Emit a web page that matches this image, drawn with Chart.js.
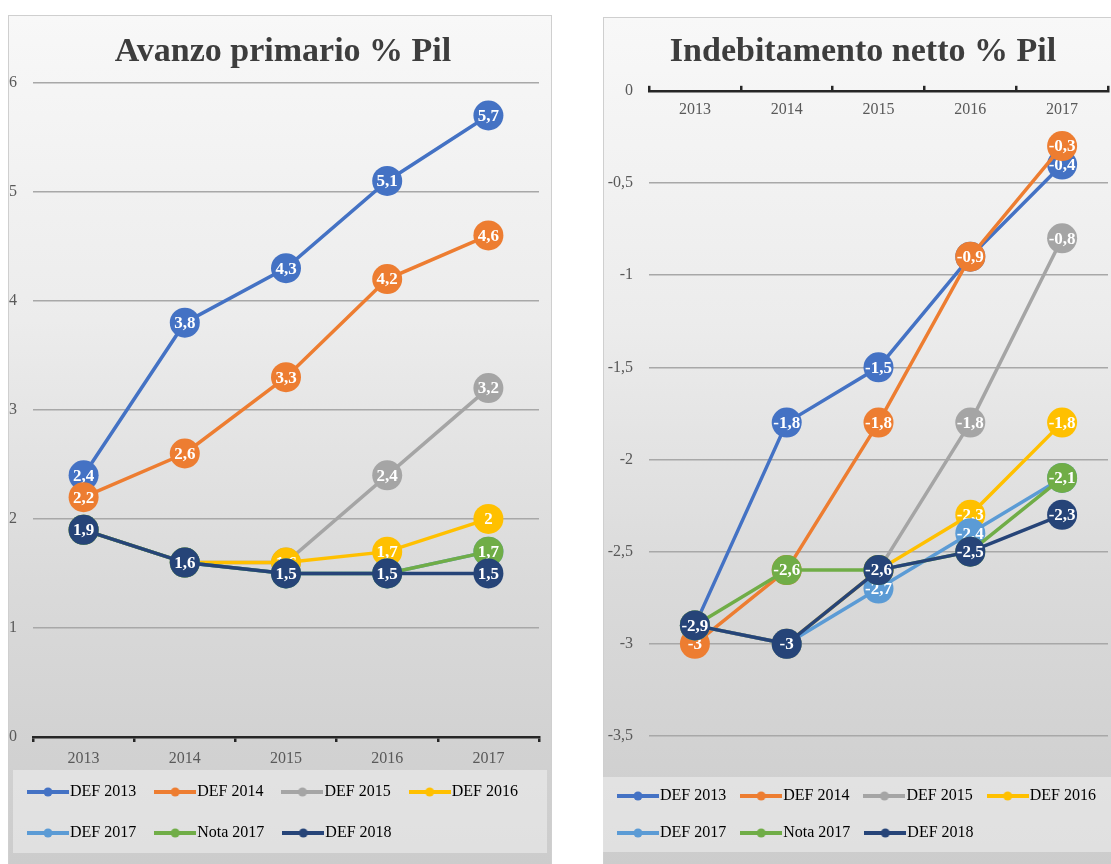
<!DOCTYPE html>
<html lang="it">
<head>
<meta charset="utf-8">
<title>Avanzo primario e indebitamento netto % Pil</title>
<script src="https://cdn.jsdelivr.net/npm/chart.js@4.4.1/dist/chart.umd.min.js"></script>
<style>
  html, body { margin: 0; padding: 0; overflow: hidden; background: #fff; }
  body { width: 1111px; height: 864px; position: relative; }
  .pannello {
    position: absolute; box-sizing: border-box; border: 1px solid #cfcfcf;
    background: linear-gradient(to bottom, #f8f8f8 0%, #ececec 35%, #dadada 65%, #cbcbcb 100%);
  }
  canvas { position: absolute; }
</style>
</head>
<body>
<div class="pannello" style="left:8px; top:15px; width:544px; height:870px;"></div>
<div class="pannello" style="left:603px; top:17px; width:540px; height:870px;"></div>
<canvas id="avanzo" width="548" height="849" style="left:9px; top:15px;"></canvas>
<canvas id="indebitamento" width="520" height="847" style="left:603px; top:17px;"></canvas>
<script>
const anni = ['2013', '2014', '2015', '2016', '2017'];
const serie = ['DEF 2013', 'DEF 2014', 'DEF 2015', 'DEF 2016', 'DEF 2017', 'Nota 2017', 'DEF 2018'];
const colori = ['#4472C4', '#ED7D31', '#A5A5A5', '#FFC000', '#5B9BD5', '#70AD47', '#264478'];

// Avanzo primario % Pil
const avDef2013 = [2.4, 3.8, 4.3, 5.1, 5.7];
const avDef2014 = [2.2, 2.6, 3.3, 4.2, 4.6];
const avDef2015 = [1.9, 1.6, 1.6, 2.4, 3.2];
const avDef2016 = [1.9, 1.6, 1.6, 1.7, 2];
const avDef2017 = [1.9, 1.6, 1.5, 1.5, 1.7];
const avNota2017 = [1.9, 1.6, 1.5, 1.5, 1.7];
const avDef2018 = [1.9, 1.6, 1.5, 1.5, 1.5];

// Indebitamento netto % Pil
const inDef2013 = [-2.9, -1.8, -1.5, -0.9, -0.4];
const inDef2014 = [-3, -2.6, -1.8, -0.9, -0.3];
const inDef2015 = [-2.9, -3, -2.6, -1.8, -0.8];
const inDef2016 = [-2.9, -3, -2.6, -2.3, -1.8];
const inDef2017 = [-2.9, -3, -2.7, -2.4, -2.1];
const inNota2017 = [-2.9, -2.6, -2.6, -2.5, -2.1];
const inDef2018 = [-2.9, -3, -2.6, -2.5, -2.3];

const FONT = "'Liberation Serif', 'Times New Roman', serif";
const virgola = v => String(v).replace('.', ',');

// icona della legenda: linea con pallino
function iconaLegenda(colore) {
    const c = document.createElement('canvas');
    c.width = 42;
    c.height = 12;
    const g = c.getContext('2d');
    g.strokeStyle = colore;
    g.lineWidth = 4;
    g.beginPath();
    g.moveTo(0, 6);
    g.lineTo(42, 6);
    g.stroke();
    g.fillStyle = colore;
    g.beginPath();
    g.arc(21, 6, 4.5, 0, Math.PI * 2);
    g.fill();
    return c;
}
const icone = colori.map(iconaLegenda);

// etichette bianche dentro i pallini, disegnate serie per serie
const etichette = {
    id: 'etichette',
    afterDatasetDraw(chart, args) {
        const ctx = chart.ctx;
        const valori = chart.data.datasets[args.index].data;
        ctx.save();
        ctx.font = 'bold 17px ' + FONT;
        ctx.fillStyle = '#ffffff';
        ctx.textAlign = 'center';
        ctx.textBaseline = 'middle';
        args.meta.data.forEach((pt, i) => {
            if (valori[i] == null) return;
            ctx.fillText(virgola(valori[i]), pt.x, pt.y + 1);
        });
        ctx.restore();
    }
};

// avvicina la legenda all'asse (le etichette dell'asse restano intere)
const spostaLegenda = {
    id: 'spostaLegenda',
    afterLayout(chart, args, opts) {
        if (!opts.dy) return;
        chart.legend.top += opts.dy;
        chart.legend.bottom += opts.dy;
    }
};

// riquadro chiaro dietro la legenda
const sfondoLegenda = {
    id: 'sfondoLegenda',
    beforeDraw(chart, args, opts) {
        const lg = chart.legend;
        const ctx = chart.ctx;
        ctx.save();
        ctx.fillStyle = 'rgba(240,240,240,0.55)';
        ctx.fillRect(lg.left + opts.left, lg.top + opts.top,
            (lg.right - opts.right) - (lg.left + opts.left),
            (lg.bottom + opts.bottom) - (lg.top + opts.top));
        ctx.restore();
    }
};

function creaGrafico(canvasId, titolo, valori, asse) {
    const ctx = document.getElementById(canvasId).getContext('2d');
    const datasets = valori.map((v, i) => ({
        label: serie[i],
        data: v,
        borderColor: colori[i],
        backgroundColor: colori[i],
        pointBackgroundColor: colori[i],
        borderWidth: 3.5,
        pointRadius: 15,
        pointHoverRadius: 15,
        pointBorderWidth: 0,
        order: valori.length - i,
        clip: false
    }));
    return new Chart(ctx, {
        type: 'line',
        data: { labels: anni, datasets: datasets },
        plugins: [etichette, spostaLegenda, sfondoLegenda],
        options: {
            responsive: false,
            animation: false,
            events: [],
            layout: { padding: { left: 0, right: 0, top: 0, bottom: asse.bottomPad } },
            plugins: {
                title: {
                    display: true,
                    text: titolo,
                    color: '#3d3d3d',
                    font: { family: FONT, size: 34, weight: 'bold' },
                    padding: asse.titlePadding
                },
                legend: {
                    position: 'bottom',
                    align: 'start',
                    labels: {
                        usePointStyle: true,
                        pointStyleWidth: 28,
                        boxHeight: 16,
                        padding: asse.legendPadding,
                        color: '#474747',
                        font: { family: FONT, size: 16 },
                        generateLabels: chart => chart.data.datasets.map((d, i) => ({
                            text: d.label,
                            fillStyle: colori[i],
                            strokeStyle: colori[i],
                            lineWidth: 0,
                            hidden: false,
                            datasetIndex: i,
                            pointStyle: icone[i]
                        }))
                    }
                },
                tooltip: { enabled: false },
                spostaLegenda: { dy: asse.legendShift },
                sfondoLegenda: asse.sfondo
            },
            scales: {
                x: {
                    type: 'category',
                    position: asse.xPosition,
                    offset: true,
                    grid: {
                        offset: true,
                        drawOnChartArea: false,
                        drawTicks: true,
                        tickLength: 5,
                        color: '#262626',
                        lineWidth: 2.5
                    },
                    border: { display: true, color: '#262626', width: 2.5 },
                    ticks: {
                        mirror: asse.xPosition === 'top',
                        padding: asse.xPadding,
                        color: '#595959',
                        font: { family: FONT, size: 16 }
                    },
                    afterFit: s => { s.height = asse.xHeight; }
                },
                y: {
                    min: asse.min,
                    max: asse.max,
                    ticks: {
                        stepSize: asse.step,
                        padding: 16,
                        color: '#595959',
                        font: { family: FONT, size: 16 },
                        callback: v => virgola(v)
                    },
                    grid: {
                        drawTicks: false,
                        color: c => (c.tick && c.tick.value === 0) ? 'rgba(0,0,0,0)' : '#a8a8a8',
                        lineWidth: 1.5
                    },
                    border: { display: false },
                    afterFit: s => { s.width = asse.yWidth; }
                },
                destra: {
                    type: 'linear',
                    position: 'right',
                    ticks: { display: false },
                    grid: { display: false },
                    border: { display: false },
                    afterFit: s => { s.width = asse.rightWidth; }
                },
                sotto: {
                    type: 'linear',
                    position: 'bottom',
                    display: asse.bottomGap > 0,
                    ticks: { display: false },
                    grid: { display: false },
                    border: { display: false },
                    afterFit: s => { s.height = asse.bottomGap; }
                }
            }
        }
    });
}

creaGrafico('avanzo', 'Avanzo primario % Pil',
    [avDef2013, avDef2014, avDef2015, avDef2016, avDef2017, avNota2017, avDef2018],
    {
        min: 0, max: 6, step: 1,
        xPosition: 'bottom', xHeight: 32, xPadding: 7,
        yWidth: 24, rightWidth: 18, bottomGap: 0, bottomPad: 3,
        titlePadding: { top: 17, bottom: 10 },
        legendPadding: 25, legendShift: -10,
        sfondo: { left: 4, right: 10, top: 11, bottom: 2 }
    });

creaGrafico('indebitamento', 'Indebitamento netto % Pil',
    [inDef2013, inDef2014, inDef2015, inDef2016, inDef2017, inNota2017, inDef2018],
    {
        min: -3.5, max: 0, step: 0.5,
        xPosition: 'top', xHeight: 6, xPadding: 9,
        yWidth: 46, rightWidth: 14, bottomGap: 31, bottomPad: 13,
        titlePadding: { top: 15, bottom: 12 },
        legendPadding: 21, legendShift: 0,
        sfondo: { left: 0, right: 0, top: 10, bottom: 1 }
    });
</script>
</body>
</html>
